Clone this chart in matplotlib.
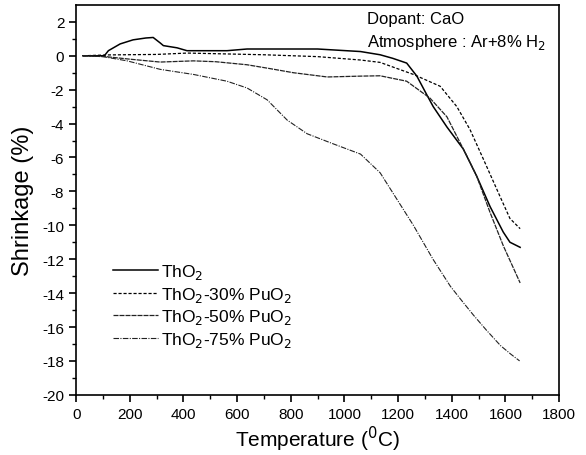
import numpy as np
import matplotlib
matplotlib.use("Agg")
import matplotlib.pyplot as plt

plt.rcParams['font.family'] = ['Liberation Sans', 'DejaVu Sans']
plt.rcParams['axes.unicode_minus'] = False

# ThO2
t_th = [25, 105, 120, 164, 212, 260, 287, 313, 325, 376, 413, 562, 637, 900, 1060, 1133,
        1180, 1232, 1270, 1307, 1331, 1382, 1443, 1493, 1543, 1592, 1617, 1655]
s_th = [0.0, 0.0, 0.3, 0.7, 0.94, 1.05, 1.08, 0.76, 0.6, 0.47, 0.3, 0.3, 0.4, 0.4, 0.25,
        0.06, -0.15, -0.43, -1.2, -2.3, -3.0, -4.2, -5.5, -7.1, -8.9, -10.4, -11.0, -11.3]

# ThO2-30% PuO2
t_30 = [25, 115, 300, 414, 700, 900, 1060, 1133, 1257, 1357, 1419, 1468, 1518, 1580,
        1617, 1655]
s_30 = [0.0, 0.05, 0.08, 0.16, 0.06, -0.05, -0.25, -0.39, -1.1, -1.8, -3.0, -4.35, -6.1,
        -8.3, -9.6, -10.2]

# ThO2-50% PuO2
t_50 = [25, 110, 200, 313, 437, 520, 637, 720, 810, 936, 1060, 1133, 1232, 1319, 1382,
        1456, 1493, 1543, 1592, 1655]
s_50 = [0.0, -0.05, -0.2, -0.37, -0.3, -0.35, -0.53, -0.75, -1.0, -1.25, -1.2, -1.18, -1.5,
        -2.5, -3.6, -5.9, -7.1, -9.25, -11.2, -13.4]

# ThO2-75% PuO2
t_75 = [25, 100, 190, 313, 437, 562, 637, 712, 787, 861, 959, 1060, 1133, 1197, 1257,
        1330, 1395, 1440, 1481, 1530, 1582, 1620, 1653]
s_75 = [0.0, -0.05, -0.3, -0.8, -1.1, -1.5, -1.9, -2.6, -3.8, -4.6, -5.2, -5.8, -6.9,
        -8.5, -10.0, -12.0, -13.6, -14.5, -15.3, -16.2, -17.1, -17.6, -18.0]

fig = plt.figure(figsize=(5.86, 4.56), dpi=100)
ax = fig.add_axes([0.13, 0.132, 0.824, 0.855])

ax.plot(t_th, s_th, color='black', lw=1.1, ls='-', label='ThO$_2$')
ax.plot(t_30, s_30, color='black', lw=0.9, ls=(0, (2.5, 1.5)), label='ThO$_2$-30% PuO$_2$')
ax.plot(t_50, s_50, color='#222222', lw=0.9, ls=(0, (4, 0.8)), label='ThO$_2$-50% PuO$_2$')
ax.plot(t_75, s_75, color='#222222', lw=0.8, ls=(0, (5, 1.2, 1, 1.2)), label='ThO$_2$-75% PuO$_2$')

ax.set_xlim(0, 1800)
ax.set_ylim(-20, 3)
ax.set_xticks(np.arange(0, 1801, 200))
ax.set_xticks(np.arange(0, 1801, 100), minor=True)
ax.set_yticks(np.arange(-20, 3, 2))
ax.set_yticks(np.arange(-20, 3, 1), minor=True)
ax.tick_params(which='both', direction='out', labelsize=11)
ax.tick_params(which='major', length=5, width=1.2)
ax.tick_params(which='minor', length=3, width=1.0)
for sp in ax.spines.values():
    sp.set_linewidth(1.2)

ax.set_xlabel('Temperature ($^{0}$C)', fontsize=15, labelpad=2)
ax.set_ylabel('Shrinkage (%)', fontsize=17, labelpad=6)

ax.text(0.602, 0.964, 'Dopant: CaO', transform=ax.transAxes, fontsize=12, va='center')
ax.text(0.602, 0.905, 'Atmosphere : Ar+8% H$_2$', transform=ax.transAxes, fontsize=12,
        va='center')

ax.legend(loc='upper left', bbox_to_anchor=(0.077, 0.34), frameon=False, fontsize=12.5,
          handlelength=2.55, handletextpad=0.2, labelspacing=0.2, borderpad=0,
          borderaxespad=0)

fig.savefig('out.png', dpi=100)
